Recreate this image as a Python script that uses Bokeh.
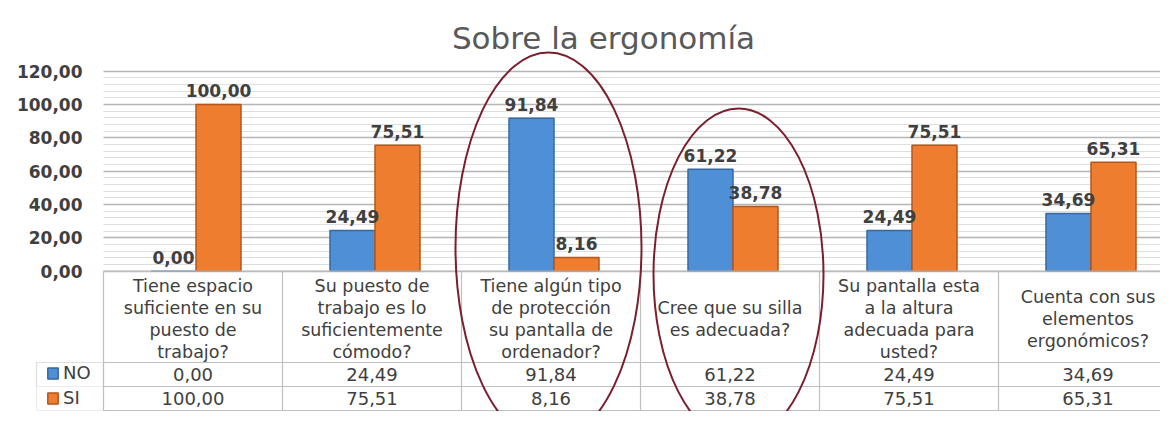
import numpy as np
from bokeh.plotting import figure
from bokeh.models import (Range1d, FixedTicker, Legend, LegendItem, Label,
                          BoxAnnotation)
from bokeh.core.properties import value
from bokeh.embed import file_html
from bokeh.resources import INLINE

# ---------------- data ----------------
title = "Sobre la ergonomía"
categories = [
    "Tiene espacio\nsuficiente en su\npuesto de\ntrabajo?",
    "Su puesto de\ntrabajo es lo\nsuficientemente\ncómodo?",
    "Tiene algún tipo\nde protección\nsu pantalla de\nordenador?",
    "Cree que su silla\nes adecuada?",
    "Su pantalla esta\na la altura\nadecuada para\nusted?",
    "Cuenta con sus\nelementos\nergonómicos?",
]
series_names = ["NO", "SI"]
no_values = [0.00, 24.49, 91.84, 61.22, 24.49, 34.69]
si_values = [100.00, 75.51, 8.16, 38.78, 75.51, 65.31]
y_ticks = [0, 20, 40, 60, 80, 100, 120]
y_tick_labels = ["0,00", "20,00", "40,00", "60,00", "80,00", "100,00", "120,00"]
highlighted = [2, 3]


def fmt(v):
    return f"{v:.2f}".replace(".", ",")


# ---------------- layout constants (canvas px) ----------------
W, H = 1160, 411
FRAME_LEFT = 34      # frame starts left of the table's legend column
ZERO_X = 103         # canvas x of category axis start
CAT_PX = 179         # px per category
PX_PER_UNIT = 200 / 120
ZERO_PX = 270.7      # canvas y of value 0


def y_of(py):
    return (ZERO_PX - py) / PX_PER_UNIT


def x_of(px):
    return (px - ZERO_X) / CAT_PX


FONT = "DejaVu Sans"
TXT = "#404040"
GRIDC = "#bfbfbf"

p = figure(width=W, height=H, x_range=Range1d(x_of(FRAME_LEFT), x_of(W)),
           y_range=Range1d(y_of(H), y_of(0)),
           output_backend="svg", toolbar_location=None,
           x_axis_location=None, min_border_left=FRAME_LEFT, min_border_right=0,
           min_border_top=0, min_border_bottom=0, outline_line_color=None,
           background_fill_color="white", border_fill_color="white")

# y axis (labels pushed right, into the area left of the categories) & grid
minor = [v for v in range(4, 120, 4) if v % 20]
p.yaxis.ticker = FixedTicker(ticks=y_ticks)
p.yaxis.major_label_overrides = {t: l for t, l in zip(y_ticks, y_tick_labels)}
p.yaxis.axis_line_color = None
p.yaxis.major_tick_line_color = None
p.yaxis.minor_tick_line_color = None
p.yaxis.major_tick_out = 0
p.yaxis.minor_tick_out = 0
p.yaxis.major_label_standoff = -(82 - FRAME_LEFT)
p.yaxis.major_label_text_font = FONT
p.yaxis.major_label_text_font_size = "17px"
p.yaxis.major_label_text_font_style = "bold"
p.yaxis.major_label_text_color = TXT

p.xgrid.visible = False
p.ygrid.ticker = FixedTicker(ticks=y_ticks, minor_ticks=minor)
p.ygrid.grid_line_color = "#b5b5b5"
p.ygrid.grid_line_width = 1.4
p.ygrid.minor_grid_line_color = "#dedede"
p.ygrid.minor_grid_line_width = 1

# mask grid lines left of the category area (where tick labels sit)
p.quad(left=[x_of(FRAME_LEFT - 2)], right=[0], bottom=[-1.2], top=[y_of(-2)],
       fill_color="white", line_color=None)

idx = np.arange(len(categories))
centers = idx + 0.5
BAR_W = 45 / CAT_PX
SHIFT = 3 / CAT_PX
x_no = centers - BAR_W / 2 + SHIFT
x_si = centers + BAR_W / 2 + SHIFT

r_no = p.vbar(x=x_no, top=no_values, bottom=0, width=BAR_W,
              fill_color="#4f8fd6", line_color="#36689f", line_width=1.5)
r_si = p.vbar(x=x_si, top=si_values, bottom=0, width=BAR_W,
              fill_color="#ee7d30", line_color="#b5561b", line_width=1.5)

lab_style = dict(text_align="center", text_baseline="alphabetic",
                 y_offset=-14, text_font=value(FONT), text_font_size="17px",
                 text_font_style="bold", text_color=TXT)
p.text(x=x_no, y=no_values, text=[fmt(v) for v in no_values], **lab_style)
p.text(x=x_si, y=si_values, text=[fmt(v) for v in si_values], **lab_style)

# ---------------- data table ----------------
rows_px = [ZERO_PX, 362, 386, 410]
row_y = [y_of(v) for v in rows_px]
n = len(categories)
p.segment(x0=[0] * len(row_y), y0=row_y, x1=[n] * len(row_y), y1=row_y,
          line_color=GRIDC, line_width=1.2)
p.segment(x0=list(range(n + 1)), y0=[0] * (n + 1),
          x1=list(range(n + 1)), y1=[row_y[-1]] * (n + 1),
          line_color=GRIDC, line_width=1.2)

p.text(x=centers, y=[(row_y[0] + row_y[1]) / 2] * n, text=categories,
       text_align="center", text_baseline="middle", text_line_height=1.09,
       y_offset=2,
       text_font=value(FONT), text_font_size="17.5px", text_color=TXT)
num_style = dict(text_align="center", text_baseline="middle",
                 text_font=value(FONT), text_font_size="18px", text_color=TXT)
p.text(x=centers, y=[(row_y[1] + row_y[2]) / 2] * n,
       text=[fmt(v) for v in no_values], **num_style)
p.text(x=centers, y=[(row_y[2] + row_y[3]) / 2] * n,
       text=[fmt(v) for v in si_values], **num_style)

# legend column of the table
lx = x_of(FRAME_LEFT + 2)
p.add_layout(BoxAnnotation(left=lx, right=0, top=row_y[1], bottom=row_y[3],
                           fill_alpha=0, line_color=GRIDC, line_width=1.2))
p.add_layout(BoxAnnotation(left=lx, right=0, top=row_y[1], bottom=row_y[2],
                           fill_alpha=0, line_color=GRIDC, line_width=1.2))

no_mid = (rows_px[1] + rows_px[2]) / 2
row_h = rows_px[2] - rows_px[1]
legend = Legend(items=[LegendItem(label=series_names[0], renderers=[r_no]),
                       LegendItem(label=series_names[1], renderers=[r_si])],
                location=(46 - FRAME_LEFT, H - (no_mid - 10 + 20 + row_h)),
                orientation="vertical",
                padding=0, margin=0, spacing=row_h - 20, glyph_width=13,
                glyph_height=14, label_height=20, label_standoff=4,
                label_text_font=FONT, label_text_font_size="18px",
                label_text_color=TXT, background_fill_alpha=0,
                border_line_color=None)
p.add_layout(legend)

# highlight ellipses (sizes in px converted to data units)
p.ellipse(x=[centers[highlighted[0]] - 2.5 / CAT_PX,
             centers[highlighted[1]] + 8.5 / CAT_PX],
          y=[14.2, -2.0], width=[186 / CAT_PX, 170 / CAT_PX],
          height=[390 / PX_PER_UNIT, 332 / PX_PER_UNIT],
          fill_color=None, line_color="#7b1e2e", line_width=2)

# title
p.add_layout(Label(x=x_of(603), y=y_of(37), text=title,
                   text_align="center", text_baseline="alphabetic",
                   text_font=FONT, text_font_size="31px",
                   text_color="#595959"))

open("out.html", "w").write(file_html(p, INLINE))
